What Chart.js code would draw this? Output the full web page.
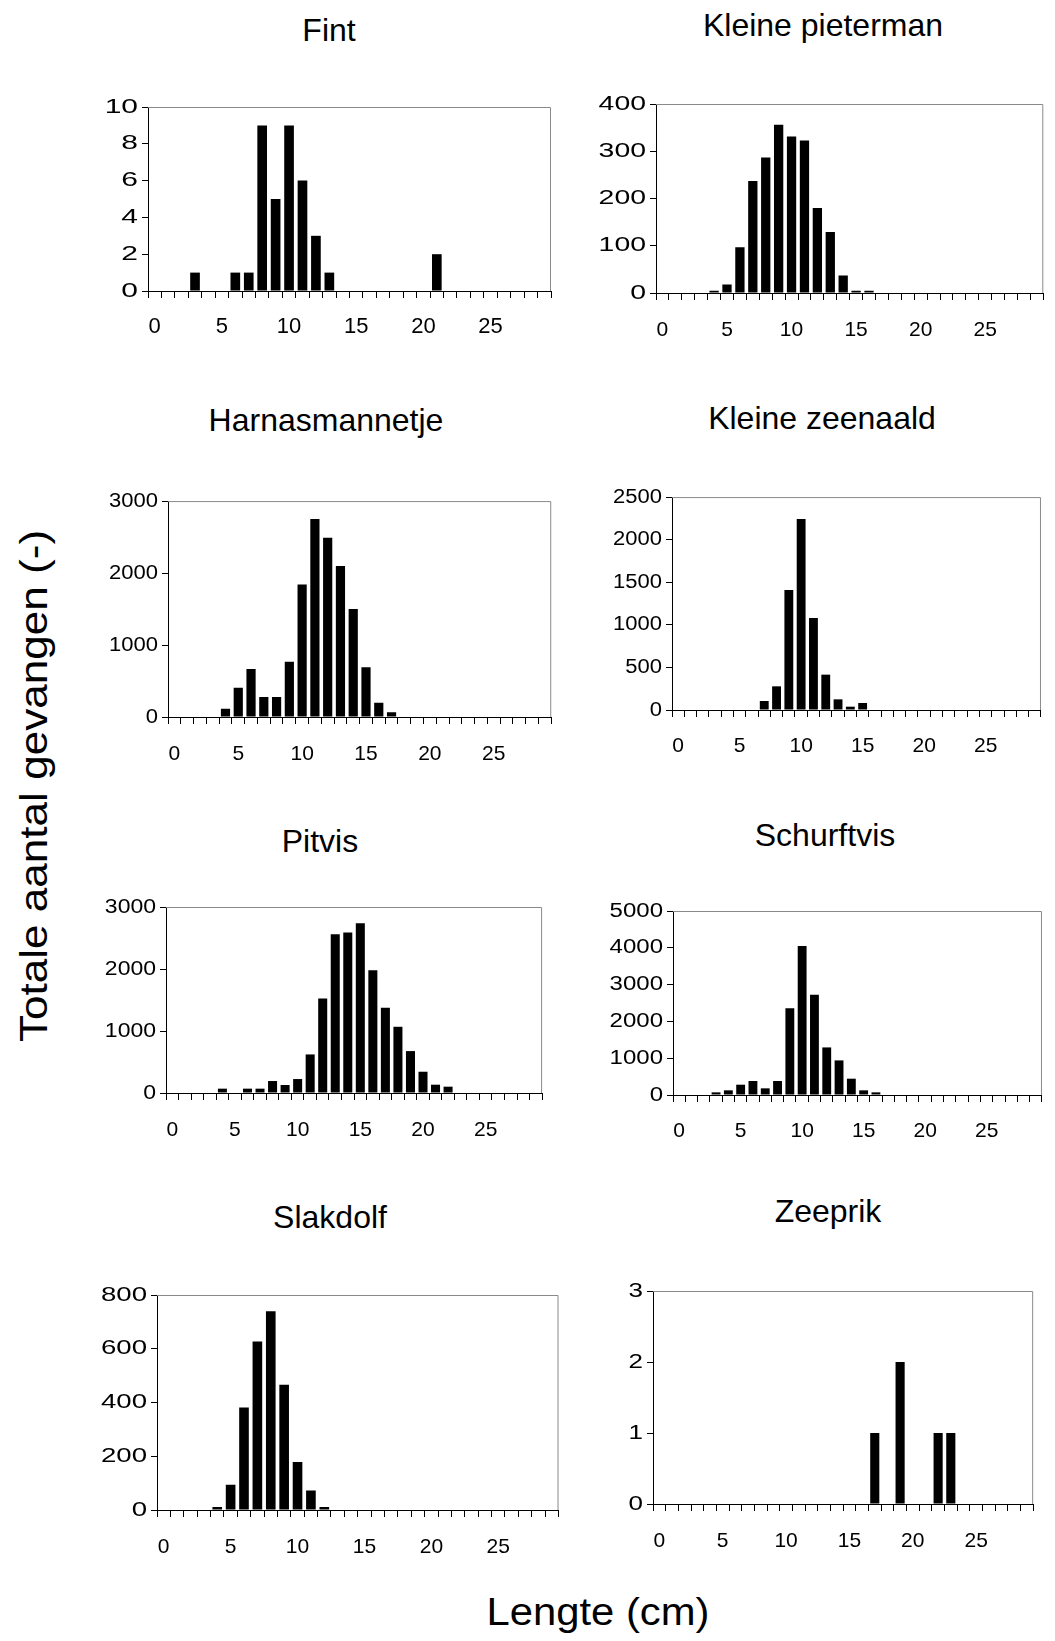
<!DOCTYPE html>
<html><head><meta charset="utf-8">
<script src="https://cdn.jsdelivr.net/npm/chart.js@4.4.1/dist/chart.umd.min.js"></script>
<style>
html,body{margin:0;padding:0;background:#fff;}
body{width:1055px;height:1641px;position:relative;overflow:hidden;font-family:'Liberation Sans',Arial,sans-serif;color:#000;}
canvas{position:absolute;}
.ttl{position:absolute;white-space:nowrap;line-height:1;font-size:32px;transform:translateX(-50%);}
.ytitle{position:absolute;white-space:nowrap;line-height:1;font-size:38px;transform:translate(-50%,-50%) rotate(-90deg) scaleX(1.16);}
.xtitle{position:absolute;white-space:nowrap;line-height:1;font-size:38px;transform:translateX(-50%) scaleX(1.1);}
</style></head><body>
<script>
// ---- data ----
const lengths = [0,1,2,3,4,5,6,7,8,9,10,11,12,13,14,15,16,17,18,19,20,21,22,23,24,25,26,27,28,29];
const titles = ['Fint','Kleine pieterman','Harnasmannetje','Kleine zeenaald','Pitvis','Schurftvis','Slakdolf','Zeeprik'];
const fint            = [0,0,0,1,0,0,1,1,9,5,9,6,3,1,0,0,0,0,0,0,0,2,0,0,0,0,0,0,0,0];
const kleinePieterman = [0,0,0,0,5,18,97,237,287,356,331,323,180,129,37,5,5,0,0,0,0,0,0,0,0,0,0,0,0,0];
const harnasmannetje  = [0,0,0,0,115,407,666,277,277,767,1840,2750,2491,2099,1502,693,199,65,0,0,0,0,0,0,0,0,0,0,0,0];
const kleineZeenaald  = [0,0,0,0,0,0,0,106,278,1408,2242,1080,415,125,39,82,0,0,0,0,0,0,0,0,0,0,0,0,0,0];
const pitvis          = [0,0,0,0,70,0,70,70,193,129,225,622,1524,2560,2587,2737,1980,1374,1068,676,343,134,102,0,0,0,0,0,0,0];
const schurftvis      = [0,0,0,72,127,280,380,181,380,2360,4051,2722,1293,940,443,127,72,0,0,0,0,0,0,0,0,0,0,0,0,0];
const slakdolf        = [0,0,0,0,11,94,381,627,740,466,179,73,11,0,0,0,0,0,0,0,0,0,0,0,0,0,0,0,0,0];
const zeeprik         = [0,0,0,0,0,0,0,0,0,0,0,0,0,0,0,0,0,1,0,2,0,0,1,1,0,0,0,0,0,0];
const series = [fint,kleinePieterman,harnasmannetje,kleineZeenaald,pitvis,schurftvis,slakdolf,zeeprik];
const yMax  = [10,400,3000,2500,3000,5000,800,3];
const yStep = [2,100,1000,500,1000,1000,200,1];
const xLabelEvery = 5;

// ---- layout (positions / styles) ----
const panels = [
  {L:148,R:551,T:107,B:291,tx:329,tb:41,  ys:1.5, xf:22,xp:16},
  {L:656,R:1045,T:104,B:293,tx:823,tb:36, ys:1.42,xf:21,xp:18},
  {L:168,R:553,T:501,B:717,tx:326,tb:431, ys:1.1, xf:21,xp:18},
  {L:672,R:1042,T:497,B:710,tx:822,tb:429,ys:1.1, xf:21,xp:17},
  {L:166,R:544,T:907,B:1093,tx:320,tb:852,ys:1.15,xf:21,xp:18},
  {L:673,R:1043,T:911,B:1095,tx:825,tb:846,ys:1.2, xf:21,xp:17},
  {L:157,R:560,T:1295,B:1510,tx:330,tb:1228,ys:1.38,xf:21,xp:18},
  {L:653,R:1035,T:1291,B:1504,tx:828,tb:1222,ys:1.3,xf:21,xp:18}
];
const YW = 75, XH = 50, PT = 15, PR = 10;

Chart.defaults.font.family = "'Liberation Sans', Arial, sans-serif";
Chart.defaults.color = '#000';

const stretchPlugin = {
  id: 'stretchY',
  beforeDraw(chart, args, opts) {
    const s = chart.scales.y;
    if (!s || s._stretched) return;
    s._stretched = true;
    const orig = s.drawLabels.bind(s);
    s.drawLabels = function(area) {
      const ctx = chart.ctx, f = opts.factor || 1, ax = s.right;
      ctx.save(); ctx.translate(ax, 0); ctx.scale(f, 1); ctx.translate(-ax, 0);
      orig(area);
      ctx.restore();
    };
  }
};
const framePlugin = {
  id: 'frame',
  afterDatasetsDraw(chart) {
    const a = chart.chartArea, c = chart.ctx;
    c.save(); c.strokeStyle = '#8a8a8a'; c.lineWidth = 1;
    c.beginPath();
    c.moveTo(a.left, a.top + 0.5);
    c.lineTo(a.right - 0.5, a.top + 0.5);
    c.lineTo(a.right - 0.5, a.bottom);
    c.stroke(); c.restore();
  }
};

panels.forEach((p, k) => {
  const t = document.createElement('div');
  t.className = 'ttl'; t.textContent = titles[k];
  t.style.left = p.tx + 'px'; t.style.top = (p.tb - 0.8465 * 32) + 'px';
  document.body.appendChild(t);

  const cv = document.createElement('canvas');
  const left = p.L - YW, top = p.T - PT;
  const w = p.R - left + PR, h = p.B - top + XH;
  cv.width = w; cv.height = h;
  cv.style.left = left + 'px'; cv.style.top = top + 'px';
  cv.style.width = w + 'px'; cv.style.height = h + 'px';
  document.body.appendChild(cv);

  new Chart(cv, {
    type: 'bar',
    data: { labels: lengths, datasets: [{ data: series[k], backgroundColor: '#000', borderWidth: 0, barPercentage: 0.72, categoryPercentage: 1 }] },
    options: {
      responsive: false, animation: false, devicePixelRatio: 1,
      layout: { padding: { left: 0, top: PT, right: PR, bottom: 0 } },
      plugins: { legend: { display: false }, tooltip: { enabled: false }, stretchY: { factor: p.ys } },
      scales: {
        x: {
          type: 'category', offset: true,
          grid: { offset: true, drawOnChartArea: false, drawTicks: true, tickLength: 7, color: '#000', lineWidth: 1 },
          border: { display: true, color: '#000', width: 1 },
          ticks: { autoSkip: false, maxRotation: 0, minRotation: 0, padding: p.xp, color: '#000', font: { size: p.xf },
                   callback: (v, i) => (lengths[i] % xLabelEvery === 0 ? String(lengths[i]) : '') },
          afterFit: (s) => { s.height = XH; }
        },
        y: {
          min: 0, max: yMax[k],
          grid: { drawOnChartArea: false, drawTicks: true, tickLength: 6, color: '#000', lineWidth: 1 },
          border: { display: true, color: '#000', width: 1 },
          ticks: { stepSize: yStep[k], padding: Math.max(0, 10 / p.ys - 6), color: '#000', font: { size: 20 },
                   callback: (v) => String(v) },
          afterFit: (s) => { s.width = YW; }
        }
      }
    },
    plugins: [stretchPlugin, framePlugin]
  });
});

const yt = document.createElement('div');
yt.className = 'ytitle'; yt.textContent = 'Totale aantal gevangen (-)';
yt.style.left = '34px'; yt.style.top = '786px';
document.body.appendChild(yt);
const xt = document.createElement('div');
xt.className = 'xtitle'; xt.textContent = 'Lengte (cm)';
xt.style.left = '598px'; xt.style.top = (1625 - 0.8465 * 38) + 'px';
document.body.appendChild(xt);
</script>
</body></html>
